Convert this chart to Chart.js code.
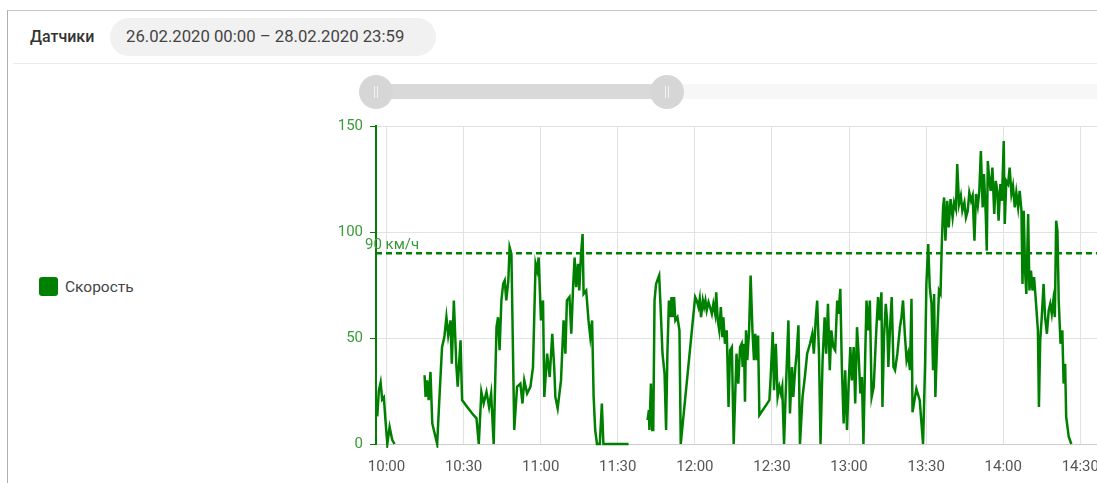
<!DOCTYPE html>
<html><head><meta charset="utf-8">
<script src="https://cdn.jsdelivr.net/npm/chart.js@4/dist/chart.umd.min.js"></script>
<style>
html,body{margin:0;padding:0;width:1097px;height:483px;overflow:hidden;background:#fff;font-family:Roboto,"Noto Sans",sans-serif;}
.abs{position:absolute;}
#cardTop{left:7px;top:10px;width:1200px;height:1px;background:#c4c4c4;}
#cardLeft{left:7px;top:10px;width:1px;height:600px;background:#b0b0b0;}
#title{left:30px;top:27px;font-size:16px;line-height:20px;font-weight:500;color:#333;}
#pill{left:110px;top:18px;width:326px;height:38px;border-radius:19px;background:#f1f1f1;font-size:16.7px;line-height:38px;color:#444;box-sizing:border-box;padding-left:16px;white-space:nowrap;}
#sep{left:13px;top:63px;width:1100px;height:1px;background:#ebebeb;}
#trackLight{left:667px;top:84px;width:500px;height:15px;background:#f7f7f7;}
#trackDark{left:376px;top:84px;width:291px;height:15px;background:#d9d9d9;}
.handle{width:34px;height:34px;border-radius:50%;background:#d6d6d6;top:75px;}
.handle:before,.handle:after{content:"";position:absolute;top:11px;width:1px;height:12px;background:#f2f2f2;}
.handle:before{left:15px;}.handle:after{left:18px;}
#legendBox{left:39px;top:277px;width:19px;height:19px;border-radius:3px;}
#legendText{left:65px;top:277px;font-size:15.5px;line-height:20px;color:#444;}
#chartWrap{left:320px;top:110px;}
</style></head>
<body>
<div class="abs" id="cardTop"></div>
<div class="abs" id="cardLeft"></div>
<div class="abs" id="title">Датчики</div>
<div class="abs" id="pill">26.02.2020 00:00 – 28.02.2020 23:59</div>
<div class="abs" id="sep"></div>
<div class="abs" id="trackLight"></div>
<div class="abs" id="trackDark"></div>
<div class="abs handle" style="left:359px"></div>
<div class="abs handle" style="left:650px"></div>
<div class="abs" id="legendBox"></div>
<div class="abs" id="legendText"></div>
<div class="abs" id="chartWrap"><canvas id="c" width="800" height="373"></canvas></div>
<script>
// Minutes since 10:00, speed in km/h (null = gap in data)
const minutes = [
 -3.6,-3.0,-2.3,-1.7,-1.05,-0.4,0.3,1.2,2.2,3.1,
 8,
 14.8,15.2,15.8,16.4,17.1,17.8,19.7,20.7,21.6,22.5,23.3,24,24.9,25.4,26.2,27.2,27.7,28.8,29.4,31.4,33.9,35,35.9,36.9,37.8,38.9,39.9,40.7,41.7,42.8,43.4,44,44.7,45.4,46,46.6,47.4,47.9,48.6,49.7,50.8,52.1,52.9,53.6,54.7,56,57,58,58.6,59.2,60.1,60.9,61.4,62.5,63.5,64.5,65.3,65.7,66.6,67.9,68.9,69.6,70.2,71.2,71.9,72.6,73.2,73.8,74.5,75,75.7,76.3,76.7,77.7,78.6,79.3,80,80.6,81.2,81.9,83,83.8,84.4,94.2,
 98,
 101.6,102.1,102.3,102.9,103.4,103.8,104.3,104.9,105.6,106.1,106.6,107.4,108.2,108.8,109.3,109.9,110.4,110.9,111.4,111.9,112.4,113.2,114,114.5,120.1,120.7,121.4,121.9,122.4,123.1,123.6,124.1,124.6,125.3,125.9,126.6,127.2,127.9,128.3,128.9,129.5,130.1,130.7,131.1,131.7,132.4,133.1,133.7,134.4,135.1,136.2,136.9,137.6,138.2,138.6,139.1,139.5,139.9,140.4,141.1,141.7,142.4,143,143.5,144.1,144.6,145.1,149,149.5,150.3,150.8,151.5,152.2,152.9,153.5,154,154.7,155.3,156.4,157,157.8,158.3,159.1,159.6,160.3,160.9,161.9,162.8,163.7,164.8,165.7,166.3,167,167.6,168.3,168.9,169.7,170.5,171.1,171.8,172.5,173.1,173.9,174.6,175.4,175.9,176.6,177.2,177.9,178.5,179.2,179.8,180.5,181.1,181.8,182.4,183.1,183.7,184.4,185,185.6,186.3,186.8,187.5,188.1,188.8,189.6,190.6,191.3,191.9,192.6,193,193.6,194.3,194.8,195.3,195.9,196.6,197.3,197.9,198.8,199.8,200.4,201,201.7,202.4,203,203.7,204.3,204.7,206.2,207.5,208.8,
 209.6,210.1,210.8,211.4,212.1,212.7,213.1,213.6,214.4,215,215.6,216.1,216.6,217,217.5,218.2,218.8,219.5,220.3,220.9,221.6,222.1,222.8,223.5,224.1,224.9,225.5,226.2,226.8,227.5,228.1,228.8,229.4,230.1,230.7,231.3,232,232.5,233.2,233.6,234,234.5,235.1,235.8,236.5,237.1,237.7,238.2,238.9,239.5,240.2,240.6,241.2,241.9,242.5,243.2,243.8,244.5,245.1,245.8,246.4,247.1,247.5,248,248.5,249,249.7,250.2,250.8,251.4,252,252.6,253.5,253.9,254.4,255,255.7,256.3,257,257.7,258.3,258.9,259.5,260.1,260.6,261.1,261.6,262.3,263,263.5,264.1,264.5,265.5,266.5
];
const speed = [
 13,25,29,21,22,11,0,8,2,0,
 null,
 32.4,22.2,30,20.7,34,9.7,0,24.6,45.7,50.4,59.8,51.2,58.3,37.9,67.7,36.3,27,48.9,20.7,17.5,13.6,12.1,0,24.6,19.1,24.6,17.5,23.8,0,55.1,59.8,44.2,67.7,75.5,77.1,67.7,77.1,92.8,89.7,6.6,27,28.5,19.1,30,23.8,27,36.3,85,81.8,88,58.3,67.7,22.2,42.6,31.6,52,35,22.2,16.8,30,58.3,42.6,67.7,69.3,52,74,88,74,85,72.4,89.7,99,70.8,72.4,58.3,50.4,58.3,22.2,6.6,0,0,19.1,0,0,
 null,
 11.3,16,6.6,28.5,6.6,6.6,67.7,75.5,77.9,79.5,66.1,42.6,33.2,6.6,42.6,67.7,59.8,69.3,59.8,69.3,58.3,59.8,53.6,0,69.3,67.7,64.6,68.5,59.8,67.7,64.6,67.7,63,66.9,64.6,61.4,66.1,61.4,71.6,58.3,53.6,64.6,50.4,59.8,47.3,53.6,17.5,44.2,45.7,0,42.6,28.5,45.7,47.3,36.3,47.3,19.9,53.6,39.5,53.6,79.5,53.6,39.5,52,39.5,51.2,13.6,20.7,31.6,52.8,25.4,47.3,22.2,27,23.8,27,0,22.2,58.3,14.4,36.3,22.2,36.3,42.6,56,0,22.2,31.6,42.6,47.3,52,42.6,58.3,67.7,42.6,0,39.5,59.8,42.6,66.1,34.8,53.6,45.7,44.2,67.7,61.4,73.2,36.3,9.7,34.8,6.6,27,45.7,30,45.7,19.1,55.1,42.6,23.8,31.6,0,42.6,67.7,53.6,67.7,22.2,27,53.6,69.3,58.3,71.6,17.5,50.4,66.1,58.3,36.3,53.6,69.3,36.3,34.8,42.6,55.1,59.8,67.7,52,39.5,42.6,34.8,68.5,15,26,20.7,0,
 37.9,75.5,94.3,74,66.1,34.8,70.8,22.2,53.6,72.4,70.8,94.3,111.6,116.3,95.9,114.7,102.2,115.5,106.9,113.9,110.8,132,113.2,117.1,110,113.9,106.9,110,118.6,114.7,117.1,95.9,117.9,112.4,119.4,138.2,111.6,127.3,108.5,91.2,133.5,125.7,119.4,130.4,108.5,124.1,119.4,105.3,122.6,114.7,142.9,103.8,124.1,122.6,130.4,117.9,121.8,111.6,118.6,111.6,119.4,110,75.5,110,81.8,70.8,108.5,72.4,81.8,72.4,78.7,69.3,53.6,17.5,48.9,59.8,75.5,59.8,52,63,66.1,61.4,67.7,59.8,105.3,100.6,67.7,47.3,53.6,28.5,37.9,12.8,3.4,0
];
const SERIES_NAME = 'Скорость';
const LIMIT = 90;
const LIMIT_LABEL = '90 км/ч';
const X_MIN = -4.1, X_MAX = 280;
const START_HOUR = 10;
const Y_TICKS = [0, 50, 100, 150];

const GREEN = '#008000';
const LABEL_GREEN = '#3a9a3a';
document.getElementById('legendBox').style.background = GREEN;
document.getElementById('legendText').textContent = SERIES_NAME;

function fmt(v){
  const t = START_HOUR*60 + Math.round(v);
  const h = Math.floor(t/60), m = t%60;
  return String(h).padStart(2,'0') + ':' + String(m).padStart(2,'0');
}

const limitLabel = {
  id:'limitLabel',
  afterDatasetsDraw(chart){
    const c = chart.ctx, y = chart.scales.y.getPixelForValue(LIMIT);
    c.save();
    c.font = '15px Roboto';
    c.fillStyle = LABEL_GREEN;
    c.textAlign = 'left';
    c.textBaseline = 'alphabetic';
    c.fillText(LIMIT_LABEL, chart.chartArea.left - 11, y - 4.5);
    c.restore();
  }
};

new Chart(document.getElementById('c'), {
  type:'line',
  data:{datasets:[
    {label:SERIES_NAME, data:minutes.map((m,i)=>({x:m,y:speed[i]})), borderColor:GREEN, backgroundColor:GREEN, borderWidth:2.5, pointRadius:0, tension:0, spanGaps:false, fill:false, clip:4},
    {label:LIMIT_LABEL, data:[{x:X_MIN,y:LIMIT},{x:X_MAX,y:LIMIT}], borderColor:GREEN, borderWidth:2.5, borderDash:[6,4], pointRadius:0, fill:false}
  ]},
  options:{
    responsive:false, animation:false, devicePixelRatio:1,
    layout:{padding:{top:15,right:14,left:0,bottom:0}},
    plugins:{legend:{display:false}, tooltip:{enabled:false}},
    scales:{
      x:{type:'linear', min:X_MIN, max:X_MAX,
         afterFit(s){ s.height = 39; },
         grid:{color:'#e2e2e2', drawTicks:false},
         border:{color:'#cccccc'},
         ticks:{stepSize:30, includeBounds:false, padding:14, color:'#555', font:{family:'Roboto', size:15}, callback:v=>fmt(v), maxRotation:0, autoSkip:false}},
      y:{min:0, max:150,
         afterFit(s){ s.width = 56; },
         afterBuildTicks(s){ s.ticks = Y_TICKS.map(v=>({value:v})); },
         grid:{color:'#e2e2e2', tickColor:GREEN, tickLength:6},
         border:{color:GREEN, width:2},
         ticks:{padding:7, color:LABEL_GREEN, font:{family:'Roboto', size:15}}}
    }
  },
  plugins:[limitLabel]
});
</script>
</body></html>
